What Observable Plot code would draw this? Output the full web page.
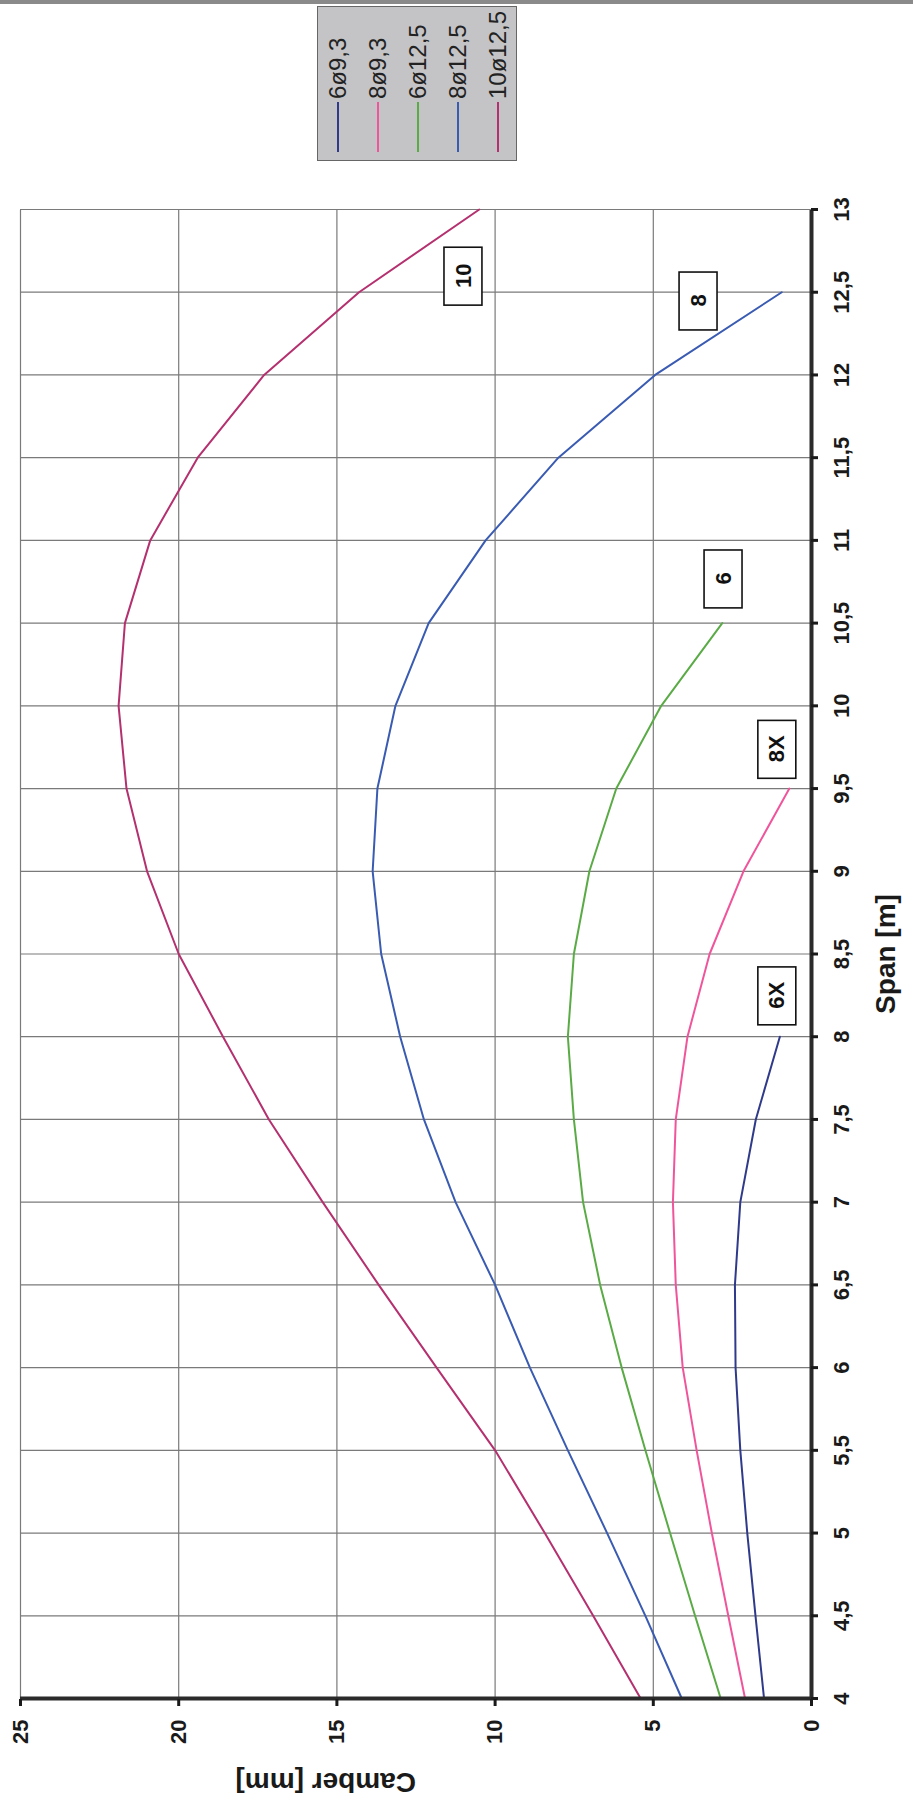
<!DOCTYPE html>
<html>
<head>
<meta charset="utf-8">
<script src="https://cdn.jsdelivr.net/npm/d3@7"></script>
<script src="https://cdn.jsdelivr.net/npm/@observablehq/plot@0.6"></script>
<style>
  html, body { margin: 0; padding: 0; width: 913px; height: 1808px; overflow: hidden; background: #ffffff; }
  #wrap { position: absolute; left: 0; top: 0; width: 1808px; height: 913px;
          transform-origin: 0 0; transform: translate(0, 1808px) rotate(-90deg);
          font-family: "Liberation Sans", Arial, sans-serif; }
  #chart { position: absolute; left: 0; top: 0; }
  #chart svg text { font-weight: bold; }
  #edge { position: absolute; left: 1804px; top: 0; width: 4px; height: 913px; background: #8a8a8a; }
  #legend { position: absolute; left: 1647px; top: 317px; width: 155px; height: 200px;
            background: #c4c4c6; border: 1px solid #666; box-sizing: border-box; }
  .row { position: relative; height: 40px; }
  .row .sw { position: absolute; left: 8px; top: 19px; width: 50px; height: 0; border-top: 2px solid; }
  .row .lb { position: absolute; left: 61px; top: 0; line-height: 40px; font-size: 24px; color: #222; white-space: nowrap; }
</style>
</head>
<body>
<div id="wrap">
  <div id="chart"></div>
  <div id="legend"></div>
  <div id="edge"></div>
</div>
<script>
// Span [m] positions of the measured points (every 0.5 m)
const spans = [4, 4.5, 5, 5.5, 6, 6.5, 7, 7.5, 8, 8.5, 9, 9.5, 10, 10.5, 11, 11.5, 12, 12.5, 13];
// Tick values
const spanTicks = [4, 4.5, 5, 5.5, 6, 6.5, 7, 7.5, 8, 8.5, 9, 9.5, 10, 10.5, 11, 11.5, 12, 12.5, 13];
const camberTicks = [0, 5, 10, 15, 20, 25];

// Series
const seriesNames = ["6ø9,3", "8ø9,3", "6ø12,5", "8ø12,5", "10ø12,5"];
const seriesColors = ["#2f3a8a", "#f0559c", "#5aab46", "#3a5bb2", "#b4306f"];

// Camber [mm] values, starting at span 4
const camber6x93  = [1.5, 1.77, 2.03, 2.25, 2.4, 2.42, 2.25, 1.76, 1.0];
const camber8x93  = [2.1, 2.63, 3.15, 3.63, 4.07, 4.29, 4.38, 4.29, 3.92, 3.22, 2.15, 0.7];
const camber6x125 = [2.87, 3.68, 4.47, 5.25, 6.0, 6.68, 7.22, 7.51, 7.7, 7.51, 7.02, 6.17, 4.75, 2.82];
const camber8x125 = [4.1, 5.25, 6.46, 7.7, 8.9, 10.0, 11.25, 12.25, 13.0, 13.6, 13.87, 13.72, 13.15, 12.1, 10.3, 8.0, 4.94, 0.94];
const camber10x125 = [5.4, 6.9, 8.43, 10.0, 11.85, 13.68, 15.45, 17.15, 18.6, 20.0, 21.0, 21.65, 21.9, 21.7, 20.9, 19.4, 17.3, 14.3, 10.5];

// Boxed curve labels
const labelTexts = ["6X", "8X", "6", "8", "10"];
const labelSpans = [8.25, 9.74, 10.77, 12.45, 12.6];
const labelCambers = [1.08, 1.08, 2.78, 3.57, 11.0];

const seriesValues = [camber6x93, camber8x93, camber6x125, camber8x125, camber10x125];
const rows = seriesNames.flatMap((name, i) =>
  seriesValues[i].map((c, j) => ({series: name, span: spans[j], camber: c})));
const labels = labelTexts.map((t, i) => ({text: t, span: labelSpans[i], camber: labelCambers[i]}));

const fmt = d => String(d).replace(".", ",");

const chart = Plot.plot({
  width: 1808,
  height: 913,
  marginLeft: 109,
  marginRight: 210,
  marginTop: 20,
  marginBottom: 102,
  style: {background: "transparent", fontFamily: "Liberation Sans, Arial, sans-serif", fontSize: "22px", fontWeight: "bold", color: "#1a1a1a"},
  x: {domain: [4, 13]},
  y: {domain: [0, 25]},
  color: {domain: seriesNames, range: seriesColors},
  marks: [
    Plot.gridX(spanTicks, {stroke: "#7a7a7a", strokeOpacity: 1, strokeWidth: 1.2}),
    Plot.gridY(camberTicks, {stroke: "#7a7a7a", strokeOpacity: 1, strokeWidth: 1.2}),
    Plot.line(rows, {x: "span", y: "camber", z: "series", stroke: "series", strokeWidth: 2}),
    Plot.rect(labels, {x1: d => d.span - 0.175, x2: d => d.span + 0.175,
                       y1: d => d.camber - 0.6, y2: d => d.camber + 0.6,
                       fill: "white", stroke: "#111", strokeWidth: 1.6}),
    Plot.text(labels, {x: "span", y: "camber", text: "text", fontWeight: "bold", fontSize: 22, fill: "#111"}),
    Plot.ruleY([0], {stroke: "#2a2a2a", strokeWidth: 4}),
    Plot.ruleX([4], {stroke: "#2a2a2a", strokeWidth: 4}),
    Plot.axisX(spanTicks, {tickSize: 7, tickPadding: 15, strokeWidth: 3, tickFormat: fmt,
                           fontWeight: "bold", fontSize: 22, label: null}),
    Plot.axisY(camberTicks, {tickSize: 7, tickPadding: 14, strokeWidth: 3,
                             fontWeight: "bold", fontSize: 22, label: null}),
    Plot.text(["Span [m]"], {frameAnchor: "bottom", dy: 83, fontSize: 28, fontWeight: "bold", fill: "#1a1a1a"}),
    Plot.text(["Camber [mm]"], {frameAnchor: "left", dx: -83, rotate: -90, fontSize: 28, fontWeight: "bold", fill: "#1a1a1a"})
  ]
});
document.getElementById("chart").appendChild(chart);

const legend = document.getElementById("legend");
seriesNames.forEach((name, i) => {
  const row = document.createElement("div");
  row.className = "row";
  const sw = document.createElement("div");
  sw.className = "sw";
  sw.style.borderTopColor = seriesColors[i];
  const lb = document.createElement("div");
  lb.className = "lb";
  lb.textContent = name;
  row.appendChild(sw);
  row.appendChild(lb);
  legend.appendChild(row);
});
</script>
</body>
</html>
